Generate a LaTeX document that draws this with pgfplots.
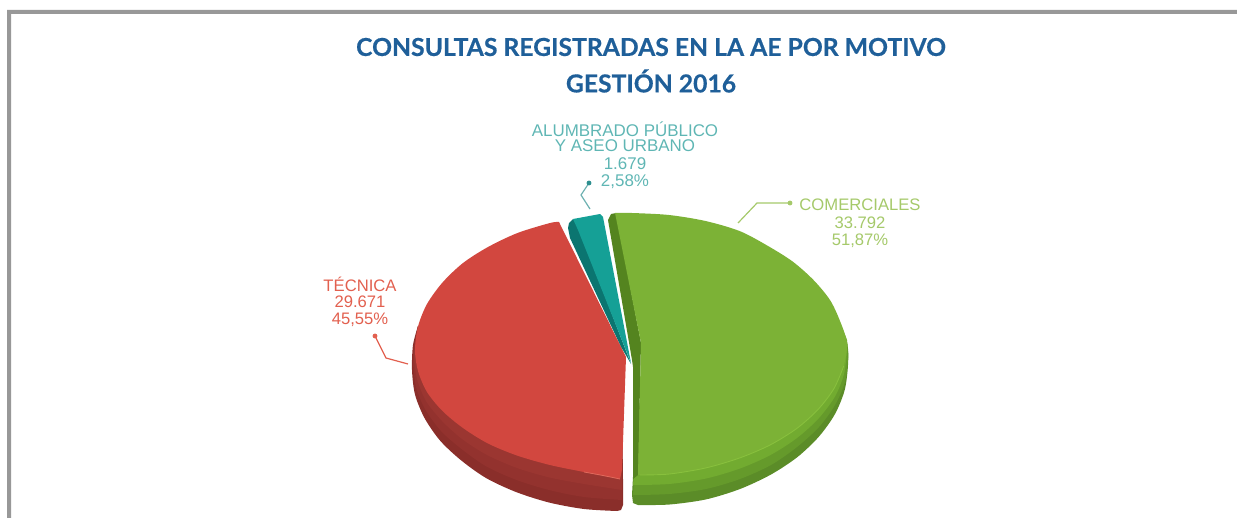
\documentclass[border=0pt]{standalone}
\usepackage{pgfplots}
\pgfplotsset{compat=1.18}
\usepackage{fontspec}
\setmainfont{Liberation Sans}
\newfontfamily\titlefont[BoldFeatures={FakeBold=0.5}]{Lato}
\definecolor{frameg}{HTML}{989898}
\definecolor{titleb}{HTML}{1F5F99}
\definecolor{redtop}{HTML}{D2473F}
\definecolor{reda}{HTML}{8A2E2A}
\definecolor{redb}{HTML}{93322E}
\definecolor{redc}{HTML}{9B3631}
\definecolor{redrim}{HTML}{E0695C}
\definecolor{grntop}{HTML}{7CB236}
\definecolor{grna}{HTML}{5B8C28}
\definecolor{grnb}{HTML}{659A2B}
\definecolor{grnc}{HTML}{72AB30}
\definecolor{grnrim}{HTML}{88C03D}
\definecolor{grndark}{HTML}{54841F}
\definecolor{teallight}{HTML}{15A096}
\definecolor{tealdark}{HTML}{0B7570}
\definecolor{lblteal}{HTML}{5FB6B4}
\definecolor{lblgrn}{HTML}{A5C96A}
\definecolor{lblred}{HTML}{E2604F}
\definecolor{dotteal}{HTML}{2E8F8F}
\begin{document}
\begin{tikzpicture}
\begin{axis}[
  width=1237bp,height=518bp,scale only axis,
  xmin=0,xmax=1237,ymin=0,ymax=518,y dir=reverse,
  hide axis,clip=true]
\path (rel axis cs:0,0) rectangle (rel axis cs:1,1);
% frame
\addplot[draw=none,fill=frameg,mark=none] coordinates {(7,518)(7,10)(1237,10)(1237,14)(11,14)(11,518)} --cycle;
% red side, outer to inner
\addplot[draw=none,fill=reda,mark=none,smooth] coordinates {(418,326)(413,345)(412,370)(415,394.5)(424.5,418)(440,440.5)(460.7,460)(486,478)(516,492)(549,502.5)(584,509)(617,511)} -- (axis cs:621,510) -- (axis cs:623,505) -- (axis cs:623,480) -- (axis cs:622,400) -- cycle;
\addplot[draw=none,fill=redb,mark=none,smooth] coordinates {(418,326)(414,345)(413,363)(416,387)(425,409)(441,431)(461.5,449)(486.5,466.5)(516.5,480)(549,490)(584,497)(622,500)} -- (axis cs:622,400) -- cycle;
\addplot[draw=none,fill=redc,mark=none,smooth] coordinates {(418,326)(415,345)(414,357)(417,379)(426,401)(442,421)(462,439)(487,455)(517,468)(549.5,477.5)(584,484)(622,490)} -- (axis cs:622,400) -- cycle;
% green side, outer to inner
\addplot[draw=none,fill=grna,mark=none,smooth] coordinates {(840,325)(847.5,345)(848,365)(844.7,390)(835,414)(819,436.5)(797.5,457)(771,474.5)(740,489)(706,499.4)(669.5,504.5)(638,505)} -- (axis cs:633,503) -- (axis cs:632,495) -- (axis cs:633,477) -- (axis cs:640,400) -- cycle;
\addplot[draw=none,fill=grnb,mark=none,smooth] coordinates {(840,325)(847,345)(848,358)(845,382)(835,405)(819,427)(797,447)(771,465)(740,479)(706,489)(669,494)(633,495)} -- (axis cs:640,400) -- cycle;
\addplot[draw=none,fill=grnc,mark=none,smooth] coordinates {(840,325)(847,340)(847,350)(844,374)(835,396.5)(818.5,418.5)(797,438)(770.5,455)(740,468.5)(706,478.5)(669,484)(633,485)} -- (axis cs:640,400) -- cycle;
% teal
\addplot[draw=none,fill=tealdark,mark=none] coordinates {(568,228)(569,223)(573,219)(578,226)(631,364)(627,357)(621,347)(570,238)} --cycle;
\addplot[draw=none,fill=teallight,mark=none] coordinates {(573,219)(600,214)(603,217)(631,363)(578,230)} --cycle;
% red top
\addplot[draw=none,fill=redtop,mark=none,smooth] coordinates {(559,222)(550,223)(517.5,233)(488,247)(463,263)(442.5,282.5)(427,304)(418,326.5)(415,350)(418,371)(427,392)(442.5,411)(463,428)(488,443.5)(517.5,455.7)(550,465)(584,472)(620,479)} -- (axis cs:622,470) -- (axis cs:626,357) -- cycle;
\addplot[draw=redrim,mark=none,line width=0.8pt,smooth] coordinates {(584,472)(603,475.5)(620,479)};
% green inner face
\addplot[draw=none,fill=grndark,mark=none] coordinates {(608,220)(611,214)(616,213)(641,343)(638,475)(633,479)(633,367)(632,360)} --cycle;
% green top
\addplot[draw=none,fill=grntop,mark=none,smooth] coordinates {(615,213)(632,213)(669,215)(705.5,221)(739.5,231)(767,245.4)(792.6,261.5)(813.5,280)(830,300)(840,321)(847,343)(843.7,366)(834,388.5)(818,409.5)(796.7,428.5)(770,445)(739.5,458)(705.5,468)(669.3,474)(638,475)} -- (axis cs:641,343) -- cycle;
\addplot[draw=grnrim,mark=none,line width=0.9pt,smooth] coordinates {(843.7,366)(834,388.5)(818,409.5)(796.7,428.5)(770,445)(739.5,458)(705.5,468)(669.3,474)(640,475)};
% leaders
\addplot[draw=dotteal!70,mark=none,line width=1.2pt] coordinates {(589,183)(581,195)(590,209)};
\addplot[draw=lblgrn,mark=none,line width=1.2pt] coordinates {(738,223)(757,203)(790,203)};
\addplot[draw=lblred,mark=none,line width=1.2pt] coordinates {(375,336)(386,358)(408,364)};
\addplot[only marks,mark=*,mark size=2.2pt,mark options={fill=dotteal,draw=dotteal}] coordinates {(589,183)};
\addplot[only marks,mark=*,mark size=2.2pt,mark options={fill=lblgrn,draw=lblgrn}] coordinates {(790,203)};
\addplot[only marks,mark=*,mark size=2.2pt,mark options={fill=lblred,draw=lblred}] coordinates {(375,336)};
% title
\node[anchor=center,text=titleb,font=\titlefont\bfseries\fontsize{24.8}{28}\selectfont] at (axis cs:651,47) {CONSULTAS REGISTRADAS EN LA AE POR MOTIVO};
\node[anchor=center,text=titleb,font=\titlefont\bfseries\fontsize{24.8}{28}\selectfont] at (axis cs:651,81) {GESTIÓN 2016};
% labels
\tikzset{lb/.style={anchor=center,font=\fontsize{16.7}{18}\selectfont,inner sep=0pt},lbt/.style={anchor=center,font=\fontsize{17}{18}\selectfont,inner sep=0pt}}
\node[lbt,text=lblteal] at (axis cs:625,129) {ALUMBRADO PÚBLICO};
\node[lbt,text=lblteal] at (axis cs:625,146) {Y ASEO URBANO};
\node[lbt,text=lblteal] at (axis cs:625,163.5) {1.679};
\node[lbt,text=lblteal] at (axis cs:625,181.5) {2,58\%};
\node[lb,text=lblgrn] at (axis cs:860,205) {COMERCIALES};
\node[lb,text=lblgrn] at (axis cs:860,222.5) {33.792};
\node[lb,text=lblgrn] at (axis cs:860,241) {51,87\%};
\node[lb,text=lblred] at (axis cs:360,284) {TÉCNICA};
\node[lb,text=lblred] at (axis cs:360,302) {29.671};
\node[lb,text=lblred] at (axis cs:360,320) {45,55\%};
\end{axis}
\end{tikzpicture}
\end{document}
